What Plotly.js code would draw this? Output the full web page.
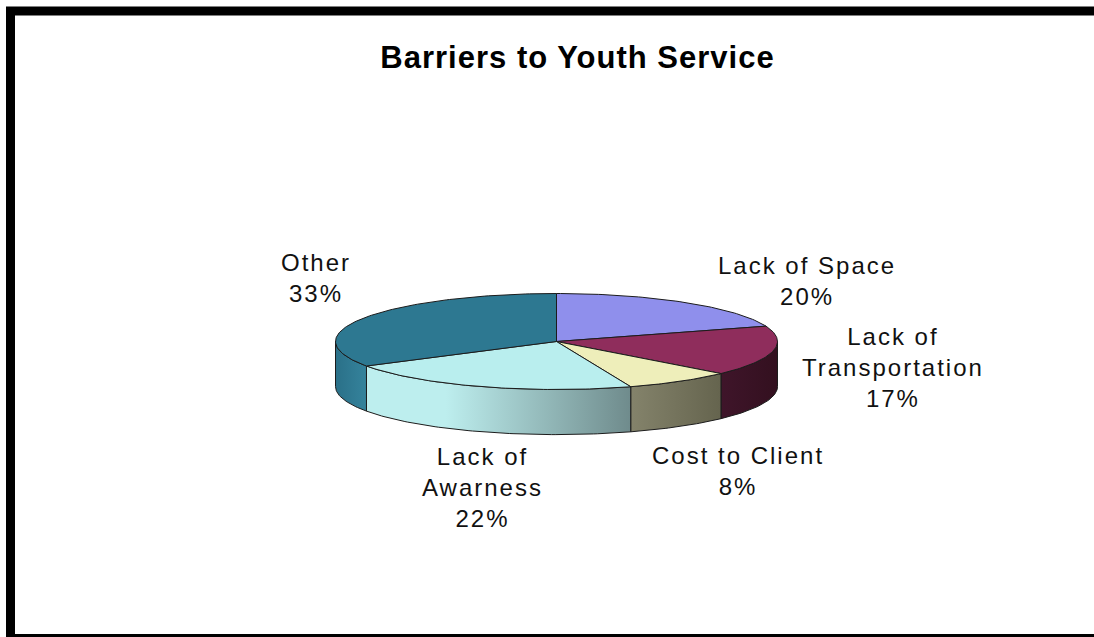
<!DOCTYPE html>
<html>
<head>
<meta charset="utf-8">
<script src="https://cdn.plot.ly/plotly-3.0.1.min.js"></script>
<style>
html,body{margin:0;padding:0;background:#fff;overflow:hidden}
#chart{width:1094px;height:637px}
.gtitle{letter-spacing:1px}
.annotation-text{letter-spacing:2px}
</style>
</head>
<body>
<div id="chart"></div>
<script>
// Data (clockwise from 12 o'clock)
var categories = ["Lack of Space", "Lack of<br>Transportation", "Cost to Client", "Lack of<br>Awarness", "Other"];
var values = [19.8, 16.8, 7.9, 21.9, 33.49];
var topColors = ["#8f8fec", "#8f2d5c", "#eeeeba", "#b9eeee", "#2d7891"];
var wallStart = ["#6a6ab0", "#3f152a", "#84836b", "#bdeeee", "#2a7088"];
var wallEnd = ["#6a6ab0", "#33101f", "#65644e", "#6f8b8c", "#35839c"];
var labelX = [807, 893, 738, 482, 316];
var labelY = [281, 367, 471, 487, 278];

var W = 1094, H = 637, cx = 556.5, cy = 341.5, rx = 221, ry = 48, depth = 0.94;
var total = values.reduce(function (a, b) { return a + b; }, 0);
var DEG = Math.PI / 180;

function arc(a0, a1, dy) {
  var xs = [], ys = [], n = Math.max(2, Math.ceil(Math.abs(a1 - a0)));
  for (var i = 0; i <= n; i++) {
    var t = (a0 + (a1 - a0) * i / n) * DEG;
    xs.push(Math.sin(t));
    ys.push(Math.cos(t) - dy);
  }
  return { x: xs, y: ys };
}

var walls = [], tops = [], annotations = [], start = 0;
values.forEach(function (v, i) {
  var end = start + v / total * 360;
  var a0 = Math.max(start, 90), a1 = Math.min(end, 270);
  if (a1 > a0) {
    var up = arc(a0, a1, 0), low = arc(a1, a0, depth);
    walls.push({
      type: "scatter", mode: "lines", name: categories[i].replace("<br>", " "),
      x: up.x.concat(low.x, [up.x[0]]), y: up.y.concat(low.y, [up.y[0]]),
      fill: "toself", fillcolor: wallStart[i],
      fillgradient: { type: "horizontal", colorscale: i === 3
        ? [[0, wallStart[i]], [0.3, wallStart[i]], [1, wallEnd[i]]]
        : [[0, wallStart[i]], [1, wallEnd[i]]] },
      line: { color: "#1c1c1c", width: 1 }, hoverinfo: "skip", showlegend: false
    });
  }
  var rim = arc(start, end, 0);
  tops.push({
    type: "scatter", mode: "lines", name: categories[i].replace("<br>", " "),
    x: [0].concat(rim.x, [0]), y: [0].concat(rim.y, [0]),
    fill: "toself", fillcolor: topColors[i],
    line: { color: "#1c1c1c", width: 1 },
    text: categories[i].replace("<br>", " ") + " " + Math.round(v) + "%",
    hoverinfo: "text", showlegend: false
  });
  annotations.push({
    xref: "paper", yref: "paper", x: labelX[i] / W, y: 1 - labelY[i] / H,
    xanchor: "center", yanchor: "middle", align: "center", showarrow: false,
    text: categories[i] + "<br>" + Math.round(v) + "%",
    font: { family: "Liberation Sans, Arial, sans-serif", size: 24, color: "#111" }
  });
  start = end;
});

var layout = {
  width: W, height: H, margin: { l: 0, r: 0, t: 0, b: 0 },
  paper_bgcolor: "#fff", plot_bgcolor: "#fff", showlegend: false,
  title: {
    text: "<b>Barriers to Youth Service</b>",
    xref: "paper", yref: "paper", x: 577.5 / W, y: 1 - 57 / H,
    xanchor: "center", yanchor: "middle",
    font: { family: "Liberation Sans, Arial, sans-serif", size: 31, color: "#000" }
  },
  xaxis: { range: [-cx / rx, (W - cx) / rx], visible: false, fixedrange: true },
  yaxis: { range: [-(H - cy) / ry, cy / ry], visible: false, fixedrange: true },
  annotations: annotations,
  shapes: [{
    type: "rect", xref: "paper", yref: "paper", layer: "above",
    x0: 10.5 / W, x1: 1120 / W, y0: 1 - 638.5 / H, y1: 1 - 11 / H,
    line: { color: "#000", width: 9 }, fillcolor: "rgba(0,0,0,0)"
  }]
};

Plotly.newPlot("chart", walls.concat(tops), layout, { displayModeBar: false, staticPlot: true });
</script>
</body>
</html>
